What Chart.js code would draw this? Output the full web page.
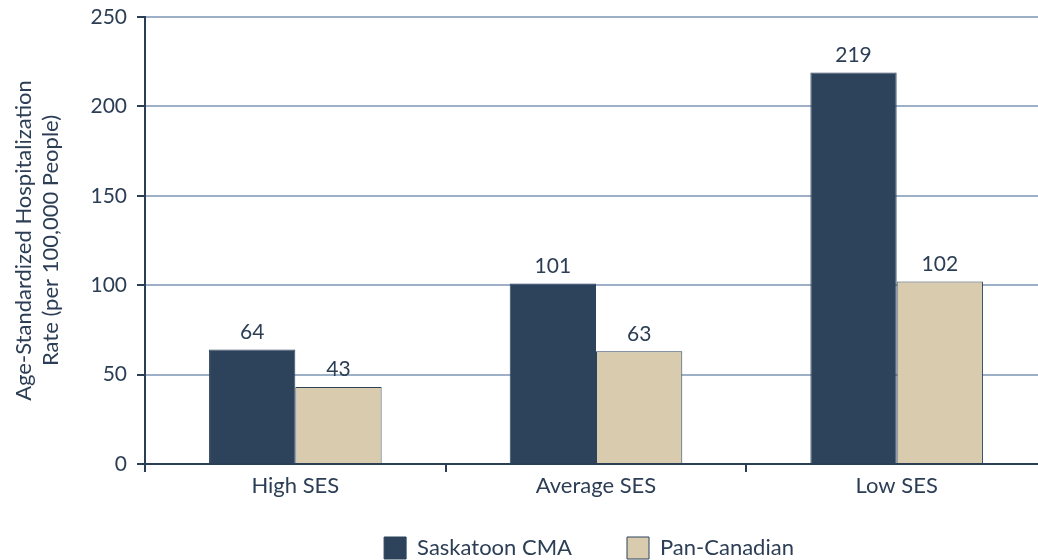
<!DOCTYPE html>
<html>
<head>
<meta charset="utf-8">
<script src="https://cdn.jsdelivr.net/npm/chart.js@4.4.0/dist/chart.umd.min.js"></script>
<style>
  html, body { margin: 0; padding: 0; background: #fff; overflow: hidden; }
  #wrap { width: 1038px; height: 560px; position: relative; overflow: hidden; }
  #inner { width: 1050px; height: 596px; position: absolute; left: 0; top: 0; }
</style>
</head>
<body>
<div id="wrap"><div id="inner"><canvas id="sesChart"></canvas></div></div>
<script>
// --- Data ---
const categories = ['High SES', 'Average SES', 'Low SES'];
const saskatoonValues = [64, 101, 219];
const panCanadianValues = [43, 63, 102];
const yTicks = [0, 50, 100, 150, 200, 250];

const textColor = '#2c3e55';
const darkBar = '#2d435c';
const lightBar = '#d9ccae';
const fontFamily = 'Lato, sans-serif';

// Value labels above each bar, plus a small legend nudge
const barLabels = {
    id: 'barLabels',
    afterLayout(chart) {
        if (chart.legend) {
            chart.legend.left -= 14;
            chart.legend.top -= 27;
        }
    },
    afterDatasetsDraw(chart) {
        const ctx = chart.ctx;
        ctx.save();
        ctx.font = '21px ' + fontFamily;
        ctx.fillStyle = textColor;
        ctx.textAlign = 'center';
        ctx.textBaseline = 'bottom';
        chart.data.datasets.forEach((ds, i) => {
            chart.getDatasetMeta(i).data.forEach((bar, j) => {
                ctx.fillText(ds.data[j], bar.x, bar.y - 7);
            });
        });
        ctx.restore();
    }
};

new Chart(document.getElementById('sesChart'), {
    type: 'bar',
    data: {
        labels: categories,
        datasets: [
            {
                label: 'Saskatoon CMA',
                data: saskatoonValues,
                backgroundColor: darkBar,
                borderColor: darkBar,
                borderWidth: 1,
                categoryPercentage: 0.574,
                barPercentage: 1.0
            },
            {
                label: 'Pan-Canadian',
                data: panCanadianValues,
                backgroundColor: lightBar,
                borderColor: darkBar,
                borderWidth: 1,
                categoryPercentage: 0.574,
                barPercentage: 1.0
            }
        ]
    },
    options: {
        responsive: true,
        maintainAspectRatio: false,
        animation: false,
        layout: { padding: { top: 0, right: 3, left: 0, bottom: 0 } },
        plugins: {
            legend: {
                position: 'bottom',
                fullSize: false,
                labels: {
                    color: textColor,
                    font: { family: fontFamily, size: 22 },
                    boxWidth: 22,
                    boxHeight: 22,
                    padding: 55,
                    useBorderRadius: false
                }
            },
            tooltip: { enabled: false }
        },
        scales: {
            x: {
                grid: {
                    display: true,
                    drawOnChartArea: false,
                    offset: true,
                    tickLength: 8,
                    tickColor: textColor,
                    lineWidth: 2
                },
                border: { color: textColor, width: 2 },
                ticks: {
                    color: textColor,
                    font: { family: fontFamily, size: 22 },
                    padding: 1
                },
                afterFit(scale) { scale.height = 45; }
            },
            y: {
                min: 0,
                max: 250,
                afterBuildTicks(scale) {
                    scale.ticks = yTicks.map(v => ({ value: v }));
                },
                grid: {
                    color: '#9db0c8',
                    lineWidth: 2,
                    tickLength: 8,
                    tickColor: textColor
                },
                border: { color: textColor, width: 2 },
                ticks: {
                    color: textColor,
                    font: { family: fontFamily, size: 21 },
                    padding: 10
                },
                title: {
                    display: true,
                    text: ['Age-Standardized Hospitalization', 'Rate (per 100,000 People)'],
                    color: textColor,
                    font: { family: fontFamily, size: 22, lineHeight: 1.25 },
                    padding: { top: 10, bottom: 0 }
                },
                afterFit(scale) {
                    scale.width = 145;
                    scale.paddingTop = 17;
                }
            }
        }
    },
    plugins: [barLabels]
});
</script>
</body>
</html>
